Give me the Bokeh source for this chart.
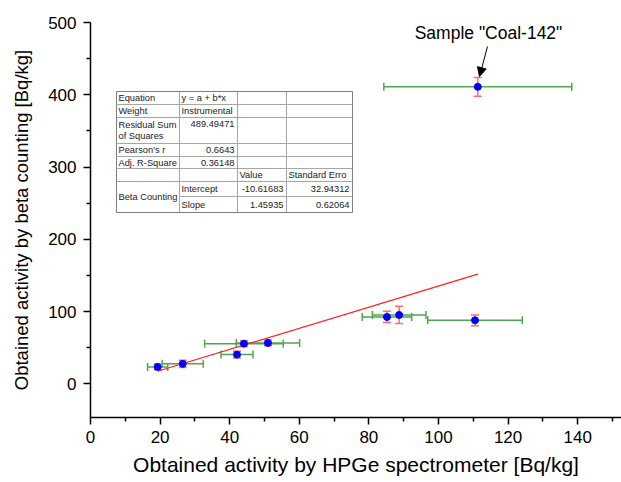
from bokeh.plotting import figure
from bokeh.models import (ColumnDataSource, Whisker, TeeHead, Arrow, NormalHead,
                          Range1d, Label, FixedTicker)
from bokeh.core.properties import value
from bokeh.embed import file_html
from bokeh.resources import INLINE

# ---------------- data ----------------
hpge = [19.3, 26.5, 42.1, 44.1, 51.0, 85.2, 88.7, 110.5, 111.3]
beta = [23.5, 27.7, 40.5, 55.7, 56.7, 92.6, 95.4, 88.0, 411.0]
hpge_err = [2.9, 5.9, 4.6, 11.3, 9.1, 7.1, 7.7, 13.6, 27.0]
beta_err = [4.0, 5.0, 4.6, 4.0, 4.0, 7.8, 12.0, 7.4, 13.0]

fit_a = -10.61683
fit_b = 1.45935

x_ticks = [0, 20, 40, 60, 80, 100, 120, 140]
y_ticks = [0, 100, 200, 300, 400, 500]

table_rows = [
    ["Equation", "y = a + b*x", "", ""],
    ["Weight", "Instrumental", "", ""],
    ["Residual Sum\nof Squares", "489.49471", "", ""],
    ["Pearson's r", "0.6643", "", ""],
    ["Adj. R-Square", "0.36148", "", ""],
    ["", "", "Value", "Standard Erro"],
    ["Beta Counting", "Intercept", "-10.61683", "32.94312"],
    ["", "Slope", "1.45935", "0.62064"],
]
annotation_text = 'Sample "Coal-142"'

FONT = "Liberation Sans"

# ---------------- figure ----------------
X0, X1 = 0, 152.6
Y0, Y1 = -46.5, 500
W, H = 621, 480
FL, FT, FB = 90, 22, 417
p = figure(width=W, height=H, output_backend="svg", toolbar_location=None,
           x_range=Range1d(X0, X1), y_range=Range1d(Y0, Y1),
           min_border_left=FL, min_border_right=0, min_border_top=FT,
           min_border_bottom=H - FB)
p.outline_line_color = None
p.grid.visible = False
p.background_fill_color = "white"

for ax in (p.xaxis[0], p.yaxis[0]):
    ax.axis_line_color = "black"
    ax.axis_line_width = 1.5
    ax.major_tick_line_color = "black"
    ax.major_tick_line_width = 1.5
    ax.minor_tick_line_color = "black"
    ax.minor_tick_line_width = 1.5
    ax.major_tick_out = 7
    ax.major_tick_in = 0
    ax.minor_tick_out = 4
    ax.minor_tick_in = 0
    ax.major_label_text_font = FONT
    ax.major_label_text_font_size = "17px"
    ax.major_label_text_color = "black"
    ax.axis_label_text_font = FONT
    ax.axis_label_text_font_style = "normal"
    ax.axis_label_text_color = "black"

p.xaxis[0].ticker = FixedTicker(ticks=x_ticks,
                                minor_ticks=[t + 10 for t in x_ticks])
p.yaxis[0].ticker = FixedTicker(ticks=y_ticks,
                                minor_ticks=[t + 50 for t in y_ticks[:-1]])
p.xaxis.axis_label = "Obtained activity by HPGe spectrometer [Bq/kg]"
p.yaxis.axis_label = "Obtained activity by beta counting [Bq/kg]"
p.xaxis.axis_label_text_font_size = "21px"
p.yaxis.axis_label_text_font_size = "18.5px"
p.xaxis.major_label_standoff = 6
p.yaxis.major_label_standoff = 7
p.xaxis.axis_label_standoff = 7
p.yaxis.axis_label_standoff = 13

# ---------------- helpers: pixel -> data for annotations ----------------
FW = W - FL
FH = FB - FT

def px2x(px):
    return X0 + (px - FL) / FW * (X1 - X0)

def py2y(py):
    return Y1 - (py - FT) / FH * (Y1 - Y0)

# ---------------- table ----------------
cols = [116, 179, 237, 286, 352]
rows = [91, 104, 117, 143, 156, 168, 181, 196, 212]
p.quad(left=[px2x(cols[0])], right=[px2x(cols[-1])], top=[py2y(rows[0])],
       bottom=[py2y(rows[-1])], fill_color="white", line_color="#7f7f7f",
       line_width=1)
sx0, sy0, sx1, sy1 = [], [], [], []
for i, r in enumerate(rows[1:-1], start=1):
    left = cols[1] if i == 7 else cols[0]
    sx0.append(px2x(left)); sx1.append(px2x(cols[-1]))
    sy0.append(py2y(r)); sy1.append(py2y(r))
for c in cols[1:-1]:
    sx0.append(px2x(c)); sx1.append(px2x(c))
    sy0.append(py2y(rows[0])); sy1.append(py2y(rows[-1]))
p.segment(sx0, sy0, sx1, sy1, line_color="#a6a6a6", line_width=1)

lt_x, lt_y, lt_t = [], [], []
rt_x, rt_y, rt_t = [], [], []
for ri, row in enumerate(table_rows):
    top, bot = rows[ri], rows[ri + 1]
    yc = (top + bot) / 2.0
    for ci, txt in enumerate(row):
        if not txt:
            continue
        if ri == 6 and ci == 0:
            lines = [txt]
            ys = [(rows[6] + rows[8]) / 2.0]
        elif "\n" in txt:
            lines = txt.split("\n")
            ys = [top + 7.5, top + 18.5]
        else:
            lines = [txt]
            ys = [top + 6.5] if ri == 2 else [yc]
        numeric = txt[0].isdigit() or txt[0] == "-"
        for ln, yy in zip(lines, ys):
            if numeric:
                rt_x.append(px2x(cols[ci + 1] - 3)); rt_y.append(py2y(yy)); rt_t.append(ln)
            else:
                lt_x.append(px2x(cols[ci] + 2)); lt_y.append(py2y(yy)); lt_t.append(ln)

p.text(lt_x, lt_y, text=lt_t, text_font=value(FONT), text_font_size="9.3px",
       text_align="left", text_baseline="middle", text_color="#222222")
p.text(rt_x, rt_y, text=rt_t, text_font=value(FONT), text_font_size="9.3px",
       text_align="right", text_baseline="middle", text_color="#222222")

# ---------------- data marks ----------------
src = ColumnDataSource(dict(
    x=hpge, y=beta,
    xl=[a - e for a, e in zip(hpge, hpge_err)],
    xu=[a + e for a, e in zip(hpge, hpge_err)],
    yl=[a - e for a, e in zip(beta, beta_err)],
    yu=[a + e for a, e in zip(beta, beta_err)],
))

green = "#4ea64e"
red = "#ff6b6b"
wx = Whisker(source=src, base="y", lower="xl", upper="xu", dimension="width",
             line_color=green, line_width=1.5,
             upper_head=TeeHead(size=8, line_color=green, line_width=1.5),
             lower_head=TeeHead(size=8, line_color=green, line_width=1.5))
wy = Whisker(source=src, base="x", lower="yl", upper="yu", dimension="height",
             line_color=red, line_width=1.5,
             upper_head=TeeHead(size=8, line_color=red, line_width=1.5),
             lower_head=TeeHead(size=8, line_color=red, line_width=1.5))
p.add_layout(wx)
p.add_layout(wy)

# linear fit line over the data range
fx = [min(hpge), max(hpge)]
fy = [fit_a + fit_b * v for v in fx]
p.line(fx, fy, line_color="#ff2020", line_width=1.2)

p.scatter("x", "y", source=src, size=7, fill_color="#0000ff",
          line_color="#0000ff")

# ---------------- annotation ----------------
p.add_layout(Arrow(end=NormalHead(size=9, fill_color="black", line_color="black"),
                   x_start=px2x(487), y_start=py2y(46), x_end=px2x(479),
                   y_end=py2y(76), line_color="black", line_width=1))
p.add_layout(Label(x=px2x(488), y=py2y(32), text=annotation_text,
                   text_font=FONT, text_font_size="17.5px", text_align="center",
                   text_baseline="middle", text_color="black"))

open("out.html", "w").write(file_html(p, INLINE))
